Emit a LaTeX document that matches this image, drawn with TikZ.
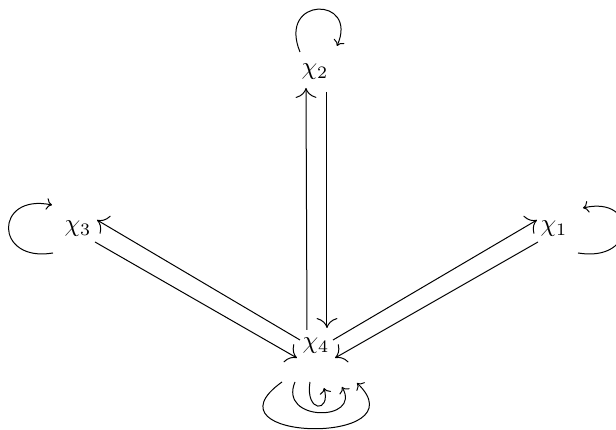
\documentclass[tikz,border=0pt]{standalone}
\usetikzlibrary{arrows.meta}
\begin{document}
\begin{tikzpicture}[x=0.4pt,y=-0.4pt,
  cdar/.style={line width=0.4pt,-{Computer Modern Rightarrow[scale=1.6]}},
  looparr/.style={line width=0.4pt,-{Computer Modern Rightarrow[scale=0.9]}},
  obj/.style={inner sep=3.33pt}]
\useasboundingbox (0,0) rectangle (616,430);
\node[obj] (c2) at (315,72) {$\chi_2$};
\node[obj] (c3) at (78,229) {$\chi_3$};
\node[obj] (c1) at (554,229) {$\chi_1$};
\node[obj] (c4) at (316,346) {$\chi_4$};
% double arrows
\draw[cdar] ([shift={(-9,-16)}]c4.center) -- ([shift={(-9,16)}]c2.center);
\draw[cdar] ([shift={(12,20)}]c2.center) -- ([shift={(11,-18)}]c4.center);
\draw[cdar] ([shift={(-16,-6)}]c4.center) -- ([shift={(19,-9)}]c3.center);
\draw[cdar] ([shift={(17,13)}]c3.center) -- ([shift={(-19,12)}]c4.center);
\draw[cdar] ([shift={(17,-6)}]c4.center) -- ([shift={(-17,-9)}]c1.center);
\draw[cdar] ([shift={(-16,13)}]c1.center) -- ([shift={(19,12)}]c4.center);
% loops
\draw[looparr] ([shift={(-15,-20)}]c2.center) .. controls ([shift={(-38,-76)}]c2.center) and ([shift={(44,-76)}]c2.center) .. ([shift={(22,-26)}]c2.center);
\draw[looparr] ([shift={(-25,24)}]c3.center) .. controls ([shift={(-84,34)}]c3.center) and ([shift={(-84,-36)}]c3.center) .. ([shift={(-26,-24)}]c3.center);
\draw[looparr] ([shift={(24,24)}]c1.center) .. controls ([shift={(84,34)}]c1.center) and ([shift={(84,-34)}]c1.center) .. ([shift={(29,-21)}]c1.center);
\draw[looparr] ([shift={(-34,36)}]c4.center) .. controls ([shift={(-118,96)}]c4.center) and ([shift={(106,100)}]c4.center) .. ([shift={(41,37)}]c4.center);
\draw[looparr] ([shift={(-21,36)}]c4.center) .. controls ([shift={(-38,76)}]c4.center) and ([shift={(46,76)}]c4.center) .. ([shift={(26,41)}]c4.center);
\draw[looparr] ([shift={(-6,36)}]c4.center) .. controls ([shift={(-11,67)}]c4.center) and ([shift={(15,67)}]c4.center) .. ([shift={(8,42)}]c4.center);
\end{tikzpicture}
\end{document}
